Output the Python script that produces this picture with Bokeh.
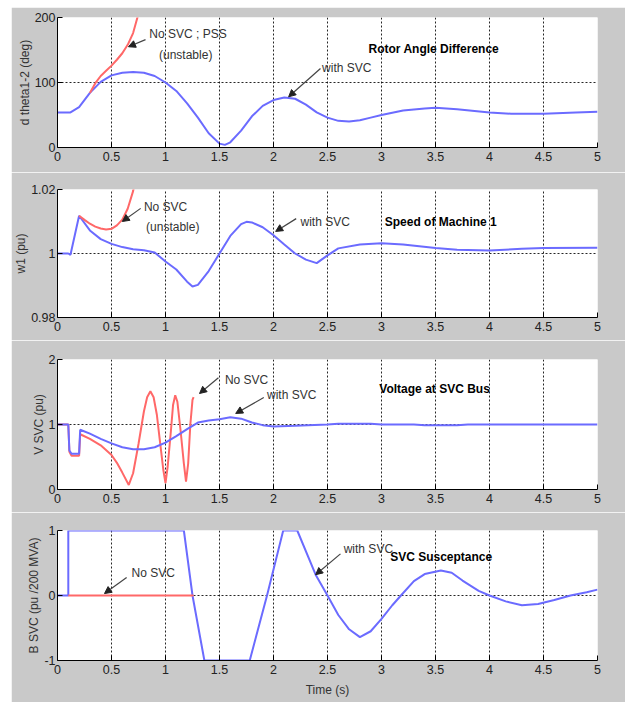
from bokeh.plotting import figure
from bokeh.layouts import column
from bokeh.models import Label, Arrow, NormalHead, FixedTicker, Range1d
from bokeh.embed import file_html
from bokeh.resources import INLINE

# ---------------- data ----------------
x_ticks = [0, 0.5, 1, 1.5, 2, 2.5, 3, 3.5, 4, 4.5, 5]
x_tick_labels = ["0", "0.5", "1", "1.5", "2", "2.5", "3", "3.5", "4", "4.5", "5"]

# Panel 1: rotor angle difference (deg)
t1_svc = [0, 0.12, 0.2, 0.3, 0.4, 0.5, 0.6, 0.7, 0.8, 0.9, 1.0, 1.1, 1.2, 1.3, 1.4, 1.5, 1.55, 1.6, 1.7,
          1.8, 1.9, 2.0, 2.1, 2.2, 2.3, 2.4, 2.5, 2.6, 2.7, 2.8, 2.9, 3.0, 3.2, 3.4, 3.5, 3.7, 4.0, 4.2,
          4.5, 4.8, 5.0]
d1_svc = [54, 54, 62, 84, 101, 111, 115, 116, 115, 110, 100, 87, 68, 46, 22, 6, 4, 8, 26,
          48, 64, 73, 77, 75, 66, 54, 46, 41, 40, 42, 46, 50, 57, 60, 61, 59, 54, 52,
          52, 54, 55]
t1_nosvc = [0.3, 0.35, 0.4, 0.45, 0.5, 0.55, 0.6, 0.65, 0.7, 0.74, 0.76]
d1_nosvc = [84, 99, 110, 118, 126, 135, 145, 158, 176, 200, 212]
y1_ticks = [0, 100, 200]
y1_tick_labels = ["0", "100", "200"]

# Panel 2: speed of machine 1 (pu)
t2_svc = [0, 0.1, 0.12, 0.2, 0.3, 0.4, 0.5, 0.6, 0.7, 0.8, 0.9, 1.0, 1.1, 1.2, 1.25, 1.3, 1.4, 1.5, 1.6,
          1.7, 1.75, 1.8, 1.9, 2.0, 2.1, 2.2, 2.3, 2.4, 2.5, 2.6, 2.8, 3.0, 3.2, 3.5, 3.7, 4.0, 4.3,
          4.5, 5.0]
w2_svc = [1.0, 1.0, 0.9996, 1.0118, 1.0072, 1.0045, 1.0030, 1.0020, 1.0013, 1.0010, 1.0003, 0.9975,
          0.9950, 0.9912, 0.9897, 0.9902, 0.9945, 1.0, 1.0055, 1.0092, 1.0099, 1.0097, 1.0082,
          1.0057, 1.0028, 1.0, 0.9981, 0.9970, 0.9994, 1.0016, 1.0028, 1.0032, 1.0028, 1.0017,
          1.0012, 1.0009, 1.0015, 1.0017, 1.0018]
t2_nosvc = [0.2, 0.25, 0.3, 0.35, 0.4, 0.45, 0.5, 0.55, 0.6, 0.65, 0.7, 0.72]
w2_nosvc = [1.0118, 1.0105, 1.0093, 1.0084, 1.0078, 1.0075, 1.0077, 1.0088, 1.0106, 1.0140,
            1.0195, 1.0225]
y2_ticks = [0.98, 1.0, 1.02]
y2_tick_labels = ["0.98", "1", "1.02"]

# Panel 3: voltage at SVC bus (pu)
t3_svc = [0, 0.1, 0.11, 0.13, 0.2, 0.21, 0.3, 0.4, 0.5, 0.6, 0.7, 0.8, 0.9, 1.0, 1.1, 1.2, 1.3,
          1.4, 1.5, 1.6, 1.7, 1.8, 1.9, 2.0, 2.2, 2.5, 2.6, 2.9, 3.0, 3.3, 3.4, 3.7, 3.8, 5.0]
v3_svc = [1.0, 1.0, 0.6, 0.55, 0.55, 0.92, 0.86, 0.78, 0.71, 0.65, 0.62, 0.62, 0.65, 0.72, 0.82,
          0.93, 1.03, 1.06, 1.08, 1.11, 1.09, 1.03, 0.99, 0.97, 0.98, 1.0, 1.01, 1.01, 1.0, 1.0,
          0.99, 0.99, 1.0, 1.0]
t3_nosvc = [0, 0.1, 0.11, 0.13, 0.2, 0.21, 0.3, 0.4, 0.5, 0.55, 0.6, 0.66, 0.7, 0.75, 0.8, 0.83,
            0.86, 0.89, 0.92, 0.95, 0.98, 1.0, 1.02, 1.05, 1.07, 1.09, 1.11, 1.14, 1.17, 1.19,
            1.21, 1.23, 1.25, 1.26]
v3_nosvc = [1.0, 1.0, 0.58, 0.52, 0.52, 0.85, 0.78, 0.68, 0.53, 0.41, 0.26, 0.07, 0.25, 0.70,
            1.20, 1.42, 1.51, 1.42, 1.15, 0.72, 0.30, 0.10, 0.35, 0.90, 1.30, 1.45, 1.35, 0.90,
            0.40, 0.12, 0.40, 1.0, 1.38, 1.42]
y3_ticks = [0, 1, 2]
y3_tick_labels = ["0", "1", "2"]

# Panel 4: SVC susceptance (pu / 200 MVA)
t4_svc = [0, 0.1, 0.1, 1.17, 1.25, 1.36, 1.78, 1.94, 2.09, 2.22, 2.39, 2.5, 2.6, 2.7, 2.8, 2.9,
          3.0, 3.1, 3.18, 3.3, 3.4, 3.55, 3.65, 3.75, 3.9, 4.0, 4.15, 4.3, 4.45, 4.6, 4.75, 4.9, 5.0]
b4_svc = [0, 0, 1, 1, 0, -1, -1, 0, 1, 1, 0.32, 0, -0.3, -0.52, -0.64, -0.55, -0.36, -0.15, 0,
          0.22, 0.33, 0.385, 0.35, 0.23, 0.07, 0, -0.09, -0.15, -0.13, -0.07, 0, 0.05, 0.09]
t4_nosvc = [0.1, 1.26]
b4_nosvc = [0, 0]
y4_ticks = [-1, 0, 1]
y4_tick_labels = ["-1", "0", "1"]

# ---------------- style ----------------
BG = "#c9c9c9"
BLUE = "#6b6bff"
RED = "#ff6868"
TXT = "#333333"
SANS = "Liberation Sans"


def make_fig(height, top, bottom, yr, yticks, ylabels, ylab, xlab=None):
    p = figure(width=614, height=height, output_backend="svg", toolbar_location=None,
               x_range=Range1d(0, 5), y_range=Range1d(*yr),
               min_border_left=46, min_border_right=28, min_border_top=top,
               min_border_bottom=bottom)
    p.background_fill_color = "white"
    p.border_fill_color = BG
    p.outline_line_color = None
    for ax in (p.xaxis[0], p.yaxis[0]):
        ax.axis_line_color = "black"
        ax.axis_line_width = 1
        ax.major_tick_in = 5
        ax.major_tick_out = 0
        ax.minor_tick_line_color = None
        ax.major_tick_line_color = "black"
        ax.major_label_text_font = SANS
        ax.major_label_text_font_size = "12.5px"
        ax.major_label_text_color = "#222222"
        ax.major_label_standoff = 4
        ax.axis_label_text_font = SANS
        ax.axis_label_text_font_size = "12px"
        ax.axis_label_text_font_style = "normal"
        ax.axis_label_text_color = TXT
        ax.axis_label_text_line_height = 1.0
    p.yaxis.major_label_standoff = 2
    p.xaxis.ticker = FixedTicker(ticks=x_ticks)
    p.xaxis.major_label_overrides = dict(zip(x_ticks, x_tick_labels))
    p.yaxis.ticker = FixedTicker(ticks=yticks)
    p.yaxis.major_label_overrides = dict(zip(yticks, ylabels))
    p.yaxis.axis_label = ylab
    p.yaxis.axis_label_standoff = 0
    if xlab:
        p.xaxis.axis_label = xlab
        p.xaxis.axis_label_standoff = 6
    for g in (p.xgrid[0], p.ygrid[0]):
        g.grid_line_color = "black"
        g.grid_line_dash = "2 2"
        g.grid_line_width = 1
        g.grid_line_alpha = 0.85
    return p


def note(p, x, y, text, bold=False):
    p.add_layout(Label(x=x, y=y, text=text, text_baseline="middle", text_align="left",
                       text_font=SANS, text_font_size="12px",
                       text_font_style="bold" if bold else "normal",
                       text_color="black" if bold else TXT))


def arrow(p, xs, ys, xe, ye):
    p.add_layout(Arrow(end=NormalHead(size=7, fill_color="#222222", line_color="#222222"),
                       x_start=xs, y_start=ys, x_end=xe, y_end=ye,
                       line_color="#444444", line_width=1.2))


# Panel 1
p1 = make_fig(165, 10, 25, (0, 200), y1_ticks, y1_tick_labels, "d theta1-2 (deg)")
p1.line(t1_svc, d1_svc, line_color=BLUE, line_width=2)
p1.line(t1_nosvc, d1_nosvc, line_color=RED, line_width=2)
note(p1, 0.85, 174, "No SVC ;  PSS")
note(p1, 0.94, 143, "(unstable)")
note(p1, 2.45, 123, "with SVC")
note(p1, 2.88, 152, "Rotor Angle Difference", bold=True)
arrow(p1, 0.815, 166, 0.657, 155)
arrow(p1, 2.435, 121.5, 2.14, 78)

# Panel 2
p2 = make_fig(168, 17, 23, (0.98, 1.02), y2_ticks, y2_tick_labels, "w1 (pu)")
p2.line(t2_svc, w2_svc, line_color=BLUE, line_width=2)
p2.line(t2_nosvc, w2_nosvc, line_color=RED, line_width=2)
note(p2, 0.80, 1.0144, "No SVC")
note(p2, 0.82, 1.0084, "(unstable)")
note(p2, 2.25, 1.0100, "with SVC")
note(p2, 3.03, 1.0100, "Speed of Machine 1", bold=True)
arrow(p2, 0.77, 1.0141, 0.60, 1.0100)
arrow(p2, 2.21, 1.0109, 2.02, 1.0069)

# Panel 3
p3 = make_fig(172, 19, 23, (0, 2), y3_ticks, y3_tick_labels, "V SVC (pu)")
p3.line(t3_nosvc, v3_nosvc, line_color=RED, line_width=2)
p3.line(t3_svc, v3_svc, line_color=BLUE, line_width=2)
note(p3, 1.55, 1.69, "No SVC")
note(p3, 1.94, 1.46, "with SVC")
note(p3, 2.98, 1.54, "Voltage at  SVC Bus", bold=True)
arrow(p3, 1.49, 1.72, 1.315, 1.477)
arrow(p3, 1.91, 1.415, 1.65, 1.17)

# Panel 4
p4 = make_fig(190, 18, 42, (-1, 1), y4_ticks, y4_tick_labels, "B SVC (pu /200 MVA)", xlab="Time (s)")
p4.line(t4_svc, b4_svc, line_color=BLUE, line_width=2)
p4.line(t4_nosvc, b4_nosvc, line_color=RED, line_width=2)
note(p4, 0.685, 0.34, "No SVC")
note(p4, 2.65, 0.71, "with SVC")
note(p4, 3.08, 0.585, "SVC Susceptance", bold=True)
arrow(p4, 0.64, 0.277, 0.435, 0.03)
arrow(p4, 2.62, 0.64, 2.39, 0.32)

layout = column(p1, p2, p3, p4, spacing=0, margin=(7, 0, 0, 11))
open("out.html", "w").write(file_html(layout, INLINE))
